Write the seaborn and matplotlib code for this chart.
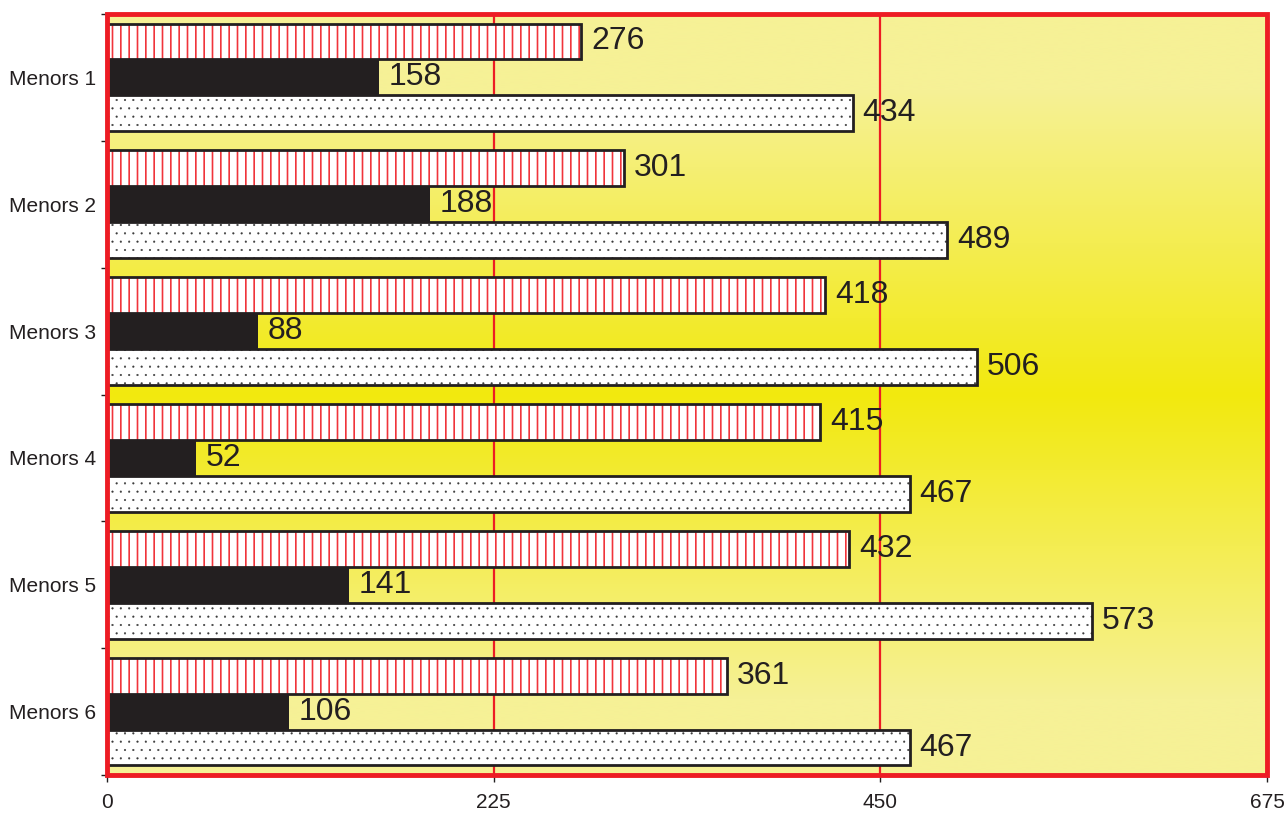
"""Menors bar chart, three series per group."""

import numpy as np
import pandas as pd
import matplotlib.pyplot as plt
from matplotlib.patches import Rectangle
import seaborn as sns

categories = ["Menors 1", "Menors 2", "Menors 3", "Menors 4", "Menors 5", "Menors 6"]
series_names = ["Sèrie 1", "Sèrie 2", "Sèrie 3"]
serie_1 = [276, 301, 418, 415, 432, 361]
serie_2 = [158, 188, 88, 52, 141, 106]
serie_3 = [434, 489, 506, 467, 573, 467]
x_ticks = [0, 225, 450, 675]

red = "#ed1c24"
black = "#231f20"
light_yellow = np.array([246, 241, 150]) / 255
strong_yellow = np.array([242, 233, 14]) / 255

df = pd.DataFrame({
    "Menors": categories * 3,
    "Serie": np.repeat(series_names, len(categories)),
    "Valor": serie_1 + serie_2 + serie_3,
})

sns.set_style("white")
plt.rcParams["font.family"] = ["Liberation Sans", "DejaVu Sans"]
plt.rcParams["hatch.linewidth"] = 1.2

fig = plt.figure(figsize=(12.85, 8.14), dpi=100)
pos = [107 / 1285, 1 - 775 / 814, 1160 / 1285, 761 / 814]

# background gradient, light at top and bottom, strong yellow in the middle
bg = fig.add_axes(pos, zorder=0)
t = np.linspace(0, 1, 800)
w = np.interp(t, [0, 0.1, 0.5, 0.9, 1], [0, 0, 1, 0, 0])
grad = light_yellow[None, :] * (1 - w[:, None]) + strong_yellow[None, :] * w[:, None]
bg.imshow(grad[:, None, :], aspect="auto", extent=[0, 1, 0, 1], interpolation="bilinear")
bg.axis("off")

ax = fig.add_axes(pos, zorder=1)
ax.set_facecolor("none")

sns.barplot(data=df, x="Valor", y="Menors", hue="Serie", orient="h",
            width=0.85, gap=0, palette=["white", black, "white"],
            saturation=1, legend=False, ax=ax, zorder=2)

for i, container in enumerate(ax.containers):
    for p in container:
        if i == 1:
            p.set_edgecolor(black)
            p.set_linewidth(0)
            continue
        if i == 0:
            p.set_edgecolor("#f0343b")
            p.set_hatch("||")
        else:
            p.set_edgecolor("#3a3a3a")
            p.set_hatch("..")
            if hasattr(p, "set_hatch_linewidth"):
                p.set_hatch_linewidth(0.3)
        p.set_linewidth(0)
        # black outline drawn on top so the hatch keeps its own colour
        ax.add_patch(Rectangle(p.get_xy(), p.get_width(), p.get_height(),
                               fill=False, ec=black, lw=2, zorder=2.1))
    ax.bar_label(container, fontsize=23, padding=7, color=black)

ax.set_xlim(0, 675)
ax.set_ylim(5.5, -0.5)
ax.set_xticks(x_ticks)
ax.set_xticklabels([str(v) for v in x_ticks], fontsize=15, color=black)
ax.set_yticks(range(len(categories)))
ax.set_yticklabels(categories, fontsize=15, color=black)
ax.set_yticks(np.arange(-0.5, 6, 1), minor=True)
ax.tick_params(axis="y", which="major", length=0, pad=8)
ax.tick_params(axis="y", which="minor", length=4.5, width=1, color=black, direction="out", left=True)
ax.tick_params(axis="x", which="major", length=5, width=1, color=black, direction="out", bottom=True, pad=8)
ax.set_xlabel("")
ax.set_ylabel("")

for v in [225, 450]:
    ax.axvline(v, color=red, lw=1.6, zorder=1)

for s in ax.spines.values():
    s.set_color(black)
    s.set_linewidth(1)
ax.add_patch(Rectangle((0, 0), 1, 1, transform=ax.transAxes, fill=False,
                       ec=red, lw=3.5, zorder=3, clip_on=False))

plt.savefig("out.png", dpi=100)
